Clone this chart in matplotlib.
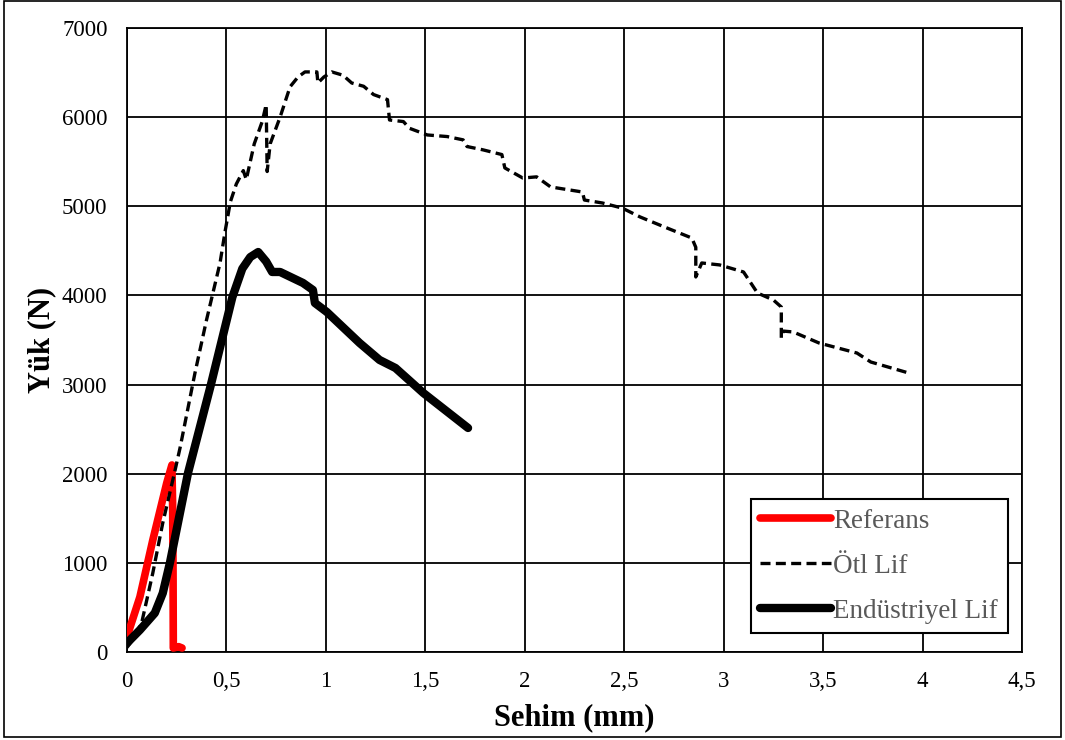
"""Load-deflection curves for the reference beam and the two fibre-reinforced beams."""

import matplotlib

matplotlib.use("Agg")
import matplotlib.pyplot as plt  # noqa: E402
from matplotlib.patches import Rectangle  # noqa: E402

# Referans (plain) - brittle: linear rise then sudden drop
ref_x = [0.0, 0.065, 0.13, 0.20, 0.226, 0.230, 0.232, 0.233, 0.233, 0.26, 0.277]
ref_y = [170, 617, 1256, 1896, 2098, 1600, 800, 100, 45, 60, 45]

# Ötl Lif
otl_x = [0.0, 0.04, 0.075, 0.13, 0.18, 0.24, 0.267, 0.342, 0.40, 0.468, 0.493, 0.52, 0.55,
         0.585, 0.6, 0.64, 0.68, 0.70, 0.705, 0.72, 0.77, 0.82, 0.86, 0.895, 0.955, 0.96, 0.99,
         1.03, 1.086, 1.13, 1.19, 1.24, 1.31, 1.32, 1.39, 1.42, 1.51, 1.61, 1.69, 1.71, 1.79,
         1.885, 1.90, 1.99, 2.06, 2.13, 2.29, 2.30, 2.39, 2.49, 2.58, 2.70, 2.84, 2.86, 2.86,
         2.89, 2.98, 3.10, 3.15, 3.17, 3.25, 3.29, 3.29, 3.30, 3.35, 3.48, 3.67, 3.74, 3.93]
otl_y = [50, 170, 337, 886, 1447, 2020, 2290, 3130, 3724, 4364, 4712, 5050, 5250,
         5400, 5300, 5700, 5950, 6140, 5390, 5700, 6000, 6340, 6450, 6507, 6507, 6383, 6450,
         6507, 6470, 6383, 6346, 6253, 6196, 5968, 5950, 5875, 5800, 5782, 5745, 5670, 5633,
         5580, 5430, 5317, 5330, 5217, 5160, 5070, 5037, 4980, 4880, 4770, 4644, 4540, 4207,
         4364, 4342, 4263, 4095, 4027, 3949, 3870, 3523, 3600, 3590, 3466, 3354, 3253, 3130]

# Endüstriyel Lif
end_x = [0.0, 0.065, 0.14, 0.18, 0.216, 0.307, 0.42, 0.53, 0.58, 0.62, 0.66, 0.70, 0.73,
         0.77, 0.885, 0.935, 0.945, 1.005, 1.17, 1.27, 1.35, 1.49, 1.715]
end_y = [100, 247, 437, 660, 1000, 2008, 2980, 3980, 4300, 4430, 4487, 4380, 4263,
         4263, 4140, 4061, 3915, 3814, 3466, 3276, 3186, 2906, 2513]

x_ticks = [0, 0.5, 1, 1.5, 2, 2.5, 3, 3.5, 4, 4.5]
x_tick_labels = ["0", "0,5", "1", "1,5", "2", "2,5", "3", "3,5", "4", "4,5"]
y_ticks = [0, 1000, 2000, 3000, 4000, 5000, 6000, 7000]

plt.rcParams["font.family"] = ["Liberation Serif", "DejaVu Serif"]

fig = plt.figure(figsize=(10.65, 7.4), dpi=100)
ax = fig.add_axes([0.1192, 0.1189, 0.8404, 0.8433])

ax.plot(ref_x, ref_y, color="#ff0000", lw=5.5, solid_capstyle="round",
        solid_joinstyle="round", label="Referans", zorder=3)
ax.plot(otl_x, otl_y, color="black", lw=2.4, dashes=(3, 1.6),
        label="Ötl Lif", zorder=4)
ax.plot(end_x, end_y, color="black", lw=6.0, solid_capstyle="round",
        solid_joinstyle="round", label="Endüstriyel Lif", zorder=3)

ax.set_xlim(0, 4.5)
ax.set_ylim(0, 7000)
ax.set_xticks(x_ticks)
ax.set_xticklabels(x_tick_labels)
ax.set_yticks(y_ticks)
ax.tick_params(length=0, labelsize=16.5)
ax.tick_params(axis="x", pad=14)
ax.tick_params(axis="y", pad=14)
ax.grid(True, color="black", lw=1.3)
ax.set_axisbelow(True)
for sp in ax.spines.values():
    sp.set_color("black")
    sp.set_linewidth(1.3)

ax.set_xlabel("Sehim (mm)", fontsize=22, fontweight="bold", labelpad=8)
ax.set_ylabel("Yük (N)", fontsize=22, fontweight="bold", labelpad=4)

leg = ax.legend(loc="lower right", bbox_to_anchor=(0.984, 0.03), fontsize=19.5,
                handlelength=2.6, handletextpad=0.1, labelspacing=0.74,
                borderpad=0.35, borderaxespad=0, fancybox=False, framealpha=1)
leg.get_frame().set_edgecolor("black")
leg.get_frame().set_linewidth(1.5)
for t in leg.get_texts():
    t.set_color("#595959")

# thin border round the whole figure
fig.patches.append(Rectangle((0.004, 0.004), 0.992, 0.994, transform=fig.transFigure,
                             fill=False, edgecolor="black", lw=1.2))

fig.savefig("out.png", dpi=100)
